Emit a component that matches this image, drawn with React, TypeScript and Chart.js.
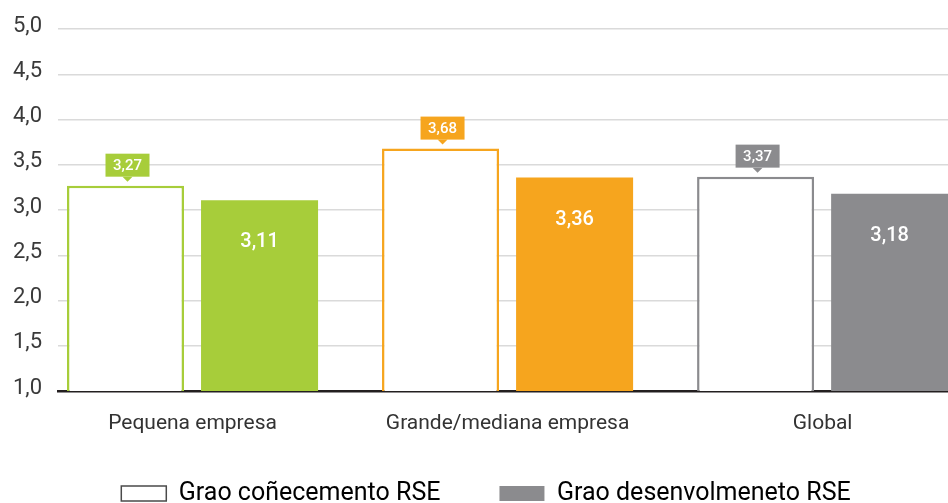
import React, { useEffect, useRef } from 'react';
import { Chart, registerables } from 'chart.js';

Chart.register(...registerables);

const categories = ['Pequena empresa', 'Grande/mediana empresa', 'Global'];
const knowledgeValues = [3.27, 3.68, 3.37];
const developmentValues = [3.11, 3.36, 3.18];
const seriesNames = ['Grao coñecemento RSE', 'Grao desenvolmeneto RSE'];
const groupColors = ['#a7cd3a', '#f6a51e', '#8b8b8e'];
const yMin = 1;
const yMax = 5;
const yStep = 0.5;

const fmt = (v: number, d: number) => v.toFixed(d).replace('.', ',');

const valueLabels = {
  id: 'valueLabels',
  afterDatasetsDraw(chart: any) {
    const ctx = chart.ctx;
    const m0 = chart.getDatasetMeta(0);
    const m1 = chart.getDatasetMeta(1);
    ctx.save();
    ctx.textAlign = 'center';
    ctx.textBaseline = 'middle';
    m0.data.forEach((bar: any, i: number) => {
      const cx = bar.x + 2;
      const w = 44;
      const h = 23;
      const bottom = bar.y - 9;
      ctx.fillStyle = groupColors[i];
      ctx.fillRect(cx - w / 2, bottom - h, w, h);
      ctx.beginPath();
      ctx.moveTo(cx - 5, bottom);
      ctx.lineTo(cx + 5, bottom);
      ctx.lineTo(cx, bottom + 5);
      ctx.closePath();
      ctx.fill();
      ctx.fillStyle = '#ffffff';
      ctx.font = '500 15px Roboto';
      ctx.fillText(fmt(knowledgeValues[i], 2), cx, bottom - h / 2 + 1);
    });
    m1.data.forEach((bar: any, i: number) => {
      ctx.fillStyle = '#ffffff';
      ctx.font = '500 20px Roboto';
      ctx.fillText(fmt(developmentValues[i], 2), bar.x, bar.y + 42);
    });
    ctx.restore();
  },
};

// nudges the legend box after layout so it sits where the reference has it
const legendPlacement = {
  id: 'legendPlacement',
  afterLayout(chart: any) {
    const l = chart.legend;
    if (!l) return;
    l.left += 12;
    l.right += 12;
    l.top -= 15;
    l.bottom -= 15;
  },
};

export default function App() {
  const ref = useRef<HTMLCanvasElement>(null);

  useEffect(() => {
    if (!ref.current) return;
    Chart.defaults.font.family = 'Roboto';
    const chart = new Chart(ref.current, {
      type: 'bar',
      data: {
        datasets: [
          {
            label: seriesNames[0],
            data: knowledgeValues.map((v, i) => ({ x: i, y: v })),
            backgroundColor: '#ffffff',
            borderColor: groupColors,
            borderWidth: 2.5,
          },
          {
            label: seriesNames[1],
            data: developmentValues.map((v, i) => ({ x: i, y: v })),
            backgroundColor: groupColors,
            borderWidth: 0,
          },
        ],
      },
      options: {
        responsive: false,
        animation: false,
        layout: { padding: { left: 0, right: 0, top: 28, bottom: 0 } },
        datasets: {
          bar: { categoryPercentage: 0.851, barPercentage: 0.873 },
        },
        scales: {
          x: {
            type: 'linear',
            min: -0.427,
            max: 2.398,
            offset: false,
            grid: { display: false, drawTicks: false },
            border: { display: true, color: '#231f20', width: 2.5 },
            afterBuildTicks: (axis: any) => {
              axis.ticks = categories.map((_, i) => ({ value: i }));
            },
            afterFit: (axis: any) => {
              axis.height = 46;
            },
            ticks: {
              padding: 20,
              autoSkip: false,
              maxRotation: 0,
              color: '#333333',
              font: { size: 21 },
              callback: (v: any) => categories[v as number] ?? '',
            },
          },
          y: {
            min: yMin,
            max: yMax,
            grid: { color: '#dadada', lineWidth: 1.5, drawTicks: false },
            border: { display: false },
            afterFit: (axis: any) => {
              axis.width = 58;
            },
            ticks: {
              stepSize: yStep,
              padding: 16,
              labelOffset: -3,
              color: '#3a3a3a',
              font: { size: 22 },
              callback: (v: any) => fmt(Number(v), 1),
            },
          },
        },
        plugins: {
          tooltip: { enabled: false },
          legend: {
            position: 'bottom',
            labels: {
              boxWidth: 45,
              boxHeight: 15,
              padding: 59,
              color: '#333333',
              font: { size: 25 },
              generateLabels: () => [
                {
                  text: seriesNames[0],
                  fillStyle: '#ffffff',
                  strokeStyle: '#4a4a4a',
                  lineWidth: 1.5,
                  hidden: false,
                  datasetIndex: 0,
                },
                {
                  text: seriesNames[1],
                  fillStyle: '#8b8b8e',
                  strokeStyle: '#8b8b8e',
                  lineWidth: 0,
                  hidden: false,
                  datasetIndex: 1,
                },
              ],
            },
          },
        },
      },
      plugins: [valueLabels, legendPlacement],
    } as any);
    return () => chart.destroy();
  }, []);

  return (
    <div style={{ position: 'fixed', left: 0, top: 0, width: 948, height: 531, background: '#ffffff' }}>
      <canvas ref={ref} width={948} height={531} style={{ display: 'block' }} />
    </div>
  );
}
